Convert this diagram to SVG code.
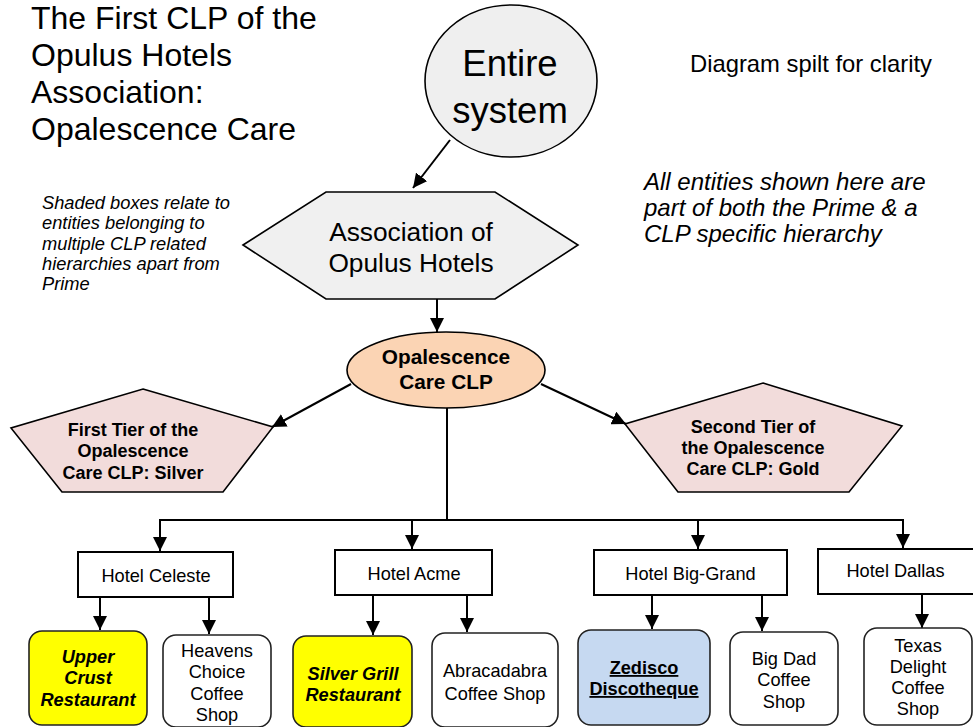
<svg xmlns="http://www.w3.org/2000/svg" width="973" height="727" viewBox="0 0 973 727">
  <defs>
    <style>
      text { font-family: "Liberation Sans", Arial, Helvetica, sans-serif; fill: #000; }
      .title { font-size: 32px; }
      .note { font-size: 18.3px; font-style: italic; }
      .note2 { font-size: 24px; font-style: italic; }
      .aside { font-size: 23.8px; }
      .mid { text-anchor: middle; }
      .big { font-size: 36.5px; }
      .hex { font-size: 26.3px; }
      .clp { font-size: 20.8px; font-weight: bold; }
      .tier { font-size: 18px; font-weight: bold; }
      .lbl { font-size: 18.2px; }
      .bi { font-size: 18.2px; font-weight: bold; font-style: italic; }
      .bu { font-size: 18.2px; font-weight: bold; text-decoration: underline; }
      .shape { stroke: #000; stroke-width: 1.6; }
      .hotel { fill: #fff; stroke: #000; stroke-width: 2; }
      .outlet { fill: #fff; stroke: #222; stroke-width: 1.6; }
      .shaded { fill: #ffff00; }
      .blue { fill: #c6d9f1; }
      .conn { fill: none; stroke: #000; stroke-width: 2; }
    </style>
    <marker id="ah" viewBox="0 0 10 10" refX="10" refY="5" markerWidth="14" markerHeight="14" markerUnits="userSpaceOnUse" orient="auto">
      <path d="M0,0 L10,5 L0,10 z" fill="#000"/>
    </marker>
  </defs>

  <rect width="973" height="727" fill="#fff"/>

  <!-- headings and notes -->
  <g id="title">
    <text class="title" x="31" y="29">The First CLP of the</text>
    <text class="title" x="31" y="66">Opulus Hotels</text>
    <text class="title" x="31" y="103">Association:</text>
    <text class="title" x="31" y="140">Opalescence Care</text>
  </g>
  <g id="note-shaded">
    <text class="note" x="42" y="209">Shaded boxes relate to</text>
    <text class="note" x="42" y="229.3">entities belonging to</text>
    <text class="note" x="42" y="249.6">multiple CLP related</text>
    <text class="note" x="42" y="270">hierarchies apart from</text>
    <text class="note" x="42" y="290.3">Prime</text>
  </g>
  <g id="note-split">
    <text class="aside" x="690" y="72">Diagram spilt for clarity</text>
  </g>
  <g id="note-entities">
    <text class="note2" x="644" y="190">All entities shown here are</text>
    <text class="note2" x="644" y="216">part of both the Prime &amp; a</text>
    <text class="note2" x="644" y="242">CLP specific hierarchy</text>
  </g>

  <!-- connectors -->
  <g id="connectors">
    <line class="conn" x1="450" y1="140" x2="413" y2="188" marker-end="url(#ah)"/>
    <line class="conn" x1="437" y1="299" x2="437" y2="332" marker-end="url(#ah)"/>
    <line class="conn" x1="351" y1="384" x2="272" y2="427" marker-end="url(#ah)"/>
    <line class="conn" x1="541" y1="384" x2="626" y2="424" marker-end="url(#ah)"/>
    <polyline class="conn" points="447,408 447,520"/>
    <polyline class="conn" points="160,520 903,520"/>
    <line class="conn" x1="160" y1="519" x2="160" y2="551" marker-end="url(#ah)"/>
    <line class="conn" x1="412" y1="519" x2="412" y2="549" marker-end="url(#ah)"/>
    <line class="conn" x1="698" y1="519" x2="698" y2="549" marker-end="url(#ah)"/>
    <line class="conn" x1="903" y1="519" x2="903" y2="548" marker-end="url(#ah)"/>
    <line class="conn" x1="100" y1="597" x2="100" y2="630" marker-end="url(#ah)"/>
    <line class="conn" x1="209" y1="597" x2="209" y2="634" marker-end="url(#ah)"/>
    <line class="conn" x1="373" y1="595" x2="373" y2="635" marker-end="url(#ah)"/>
    <line class="conn" x1="467" y1="595" x2="467" y2="632" marker-end="url(#ah)"/>
    <line class="conn" x1="652" y1="595" x2="652" y2="629" marker-end="url(#ah)"/>
    <line class="conn" x1="762" y1="595" x2="762" y2="631" marker-end="url(#ah)"/>
    <line class="conn" x1="922" y1="594" x2="922" y2="628" marker-end="url(#ah)"/>
  </g>

  <!-- nodes -->
  <g id="entire-system">
    <ellipse class="shape" cx="511" cy="81" rx="86" ry="76" fill="#efefef"/>
    <text class="big mid" x="510" y="76">Entire</text>
    <text class="big mid" x="510" y="123">system</text>
  </g>

  <g id="association">
    <polygon class="shape" points="243,245 326,192 495,192 578,245 495,299 326,299" fill="#f0f0f0"/>
    <text class="hex mid" x="411" y="241">Association of</text>
    <text class="hex mid" x="411" y="272">Opulus Hotels</text>
  </g>

  <g id="opalescence-clp">
    <ellipse class="shape" cx="446" cy="370" rx="99" ry="38" fill="#fbd4b4"/>
    <text class="clp mid" x="446" y="364">Opalescence</text>
    <text class="clp mid" x="446" y="389">Care CLP</text>
  </g>

  <g id="tier-silver">
    <polygon class="shape" points="143,389 273,427 223,492 62,492 11,428" fill="#f2dcdb"/>
    <text class="tier mid" x="133" y="436">First Tier of the</text>
    <text class="tier mid" x="133" y="457">Opalescence</text>
    <text class="tier mid" x="133" y="479">Care CLP: Silver</text>
  </g>

  <g id="tier-gold">
    <polygon class="shape" points="763,383 902,426 849,492 678,492 625,424" fill="#f2dcdb"/>
    <text class="tier mid" x="753" y="433">Second Tier of</text>
    <text class="tier mid" x="753" y="454">the Opalescence</text>
    <text class="tier mid" x="753" y="475">Care CLP: Gold</text>
  </g>

  <g id="hotel-celeste">
    <rect class="hotel" x="78" y="552" width="155" height="45"/>
    <text class="lbl mid" x="156" y="582">Hotel Celeste</text>
  </g>
  <g id="hotel-acme">
    <rect class="hotel" x="335" y="550" width="157" height="45"/>
    <text class="lbl mid" x="414" y="580">Hotel Acme</text>
  </g>
  <g id="hotel-big-grand">
    <rect class="hotel" x="594" y="550" width="193" height="45"/>
    <text class="lbl mid" x="690.5" y="580">Hotel Big-Grand</text>
  </g>
  <g id="hotel-dallas">
    <rect class="hotel" x="818" y="549" width="160" height="45"/>
    <text class="lbl mid" x="895.5" y="577">Hotel Dallas</text>
  </g>

  <g id="upper-crust">
    <rect class="outlet shaded" x="29" y="631" width="118" height="94" rx="13"/>
    <text class="bi mid" x="88" y="663">Upper</text>
    <text class="bi mid" x="88" y="684">Crust</text>
    <text class="bi mid" x="88" y="706">Restaurant</text>
  </g>
  <g id="heavens-choice">
    <rect class="outlet" x="163" y="635" width="108" height="92" rx="13"/>
    <text class="lbl mid" x="217" y="657">Heavens</text>
    <text class="lbl mid" x="217" y="678">Choice</text>
    <text class="lbl mid" x="217" y="700">Coffee</text>
    <text class="lbl mid" x="217" y="721">Shop</text>
  </g>
  <g id="silver-grill">
    <rect class="outlet shaded" x="293" y="636" width="119" height="91" rx="13"/>
    <text class="bi mid" x="353" y="680">Silver Grill</text>
    <text class="bi mid" x="353" y="701">Restaurant</text>
  </g>
  <g id="abracadabra">
    <rect class="outlet" x="432" y="633" width="126" height="94" rx="13"/>
    <text class="lbl mid" x="495" y="677">Abracadabra</text>
    <text class="lbl mid" x="495" y="700">Coffee Shop</text>
  </g>
  <g id="zedisco">
    <rect class="outlet blue" x="578" y="630" width="132" height="95" rx="13"/>
    <text class="bu mid" x="644" y="674">Zedisco</text>
    <text class="bu mid" x="644" y="695">Discotheque</text>
  </g>
  <g id="big-dad">
    <rect class="outlet" x="730" y="632" width="108" height="93" rx="13"/>
    <text class="lbl mid" x="784" y="665">Big Dad</text>
    <text class="lbl mid" x="784" y="686">Coffee</text>
    <text class="lbl mid" x="784" y="708">Shop</text>
  </g>
  <g id="texas-delight">
    <rect class="outlet" x="864" y="628" width="108" height="97" rx="13"/>
    <text class="lbl mid" x="918" y="652">Texas</text>
    <text class="lbl mid" x="918" y="673">Delight</text>
    <text class="lbl mid" x="918" y="694">Coffee</text>
    <text class="lbl mid" x="918" y="715">Shop</text>
  </g>
</svg>
